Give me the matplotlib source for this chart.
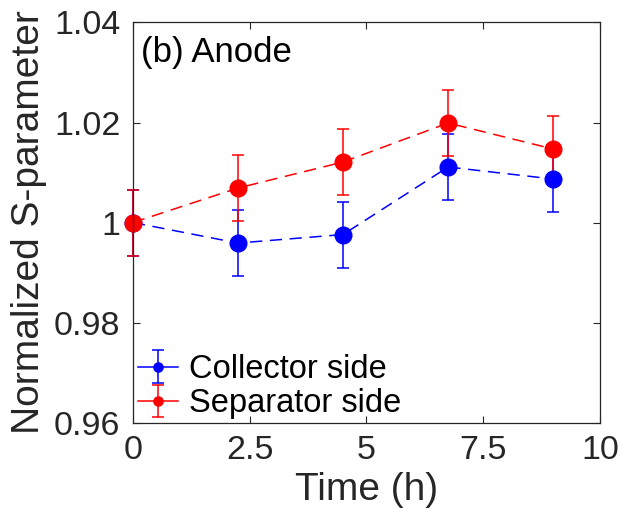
import numpy as np
import matplotlib
matplotlib.use('Agg')
import matplotlib.pyplot as plt
from matplotlib.lines import Line2D

# data
tiempo = [0, 2.25, 4.5, 6.75, 9]
s_colector = [1.0000, 0.9959, 0.9976, 1.0111, 1.0087]
err_colector = [0.0066, 0.0066, 0.0066, 0.0066, 0.0066]
s_separador = [1.0000, 1.0069, 1.0121, 1.0199, 1.0147]
err_separador = [0.0066, 0.0066, 0.0066, 0.0066, 0.0066]

xticks = [0, 2.5, 5, 7.5, 10]
xtick_labels = ['0', '2.5', '5', '7.5', '10']
yticks = [0.96, 0.98, 1.00, 1.02, 1.04]
ytick_labels = ['0.96', '0.98', '1', '1.02', '1.04']

plt.rcParams['font.family'] = ['Liberation Sans', 'DejaVu Sans']
gris = '#262626'

fig = plt.figure(figsize=(6.21, 5.23), dpi=100)
ax = fig.add_axes([0.214, 0.192, 0.752, 0.765])

for y, e, c, nombre in [(s_colector, err_colector, 'b', 'Collector side'),
                        (s_separador, err_separador, 'r', 'Separator side')]:
    eb = ax.errorbar(tiempo, y, yerr=e, color=c, ls='--', lw=1.1,
                     marker='o', ms=12, capsize=4.5, elinewidth=1.1, capthick=1.1,
                     dashes=(8, 5), label=nombre)
    for art in eb.get_children():
        art.set_clip_on(False)

ax.set_xlim(0, 10)
ax.set_ylim(0.96, 1.04)
ax.set_xticks(xticks)
ax.set_xticklabels(xtick_labels)
ax.set_yticks(yticks)
ax.set_yticklabels(ytick_labels)
ax.tick_params(direction='in', top=True, right=True, length=5, width=0.8,
               labelsize=24.5, colors=gris, pad=9)
for lado in ax.spines.values():
    lado.set_color(gris)
    lado.set_linewidth(0.9)

ax.set_xlabel('Time (h)', fontsize=28, color=gris, labelpad=4)
ax.set_ylabel('Normalized S-parameter', fontsize=28, color=gris, labelpad=5)

ax.text(0.018, 0.965, '(b) Anode', transform=ax.transAxes, fontsize=25,
        va='top', ha='left', color='k')

handles, labels = ax.get_legend_handles_labels()
leg = ax.legend(handles, labels, loc='lower left', bbox_to_anchor=(0.005, 0.0),
                frameon=False, fontsize=23.5, markerscale=0.55,
                handlelength=1.2, handletextpad=0.35, borderpad=0.1,
                borderaxespad=0.0, labelspacing=0.1)
# lineas solidas en la leyenda (como en el original)
for linea in leg.findobj(Line2D):
    if linea.get_linestyle() == '--':
        linea.set_linestyle('-')

fig.savefig('out.png', dpi=100)
